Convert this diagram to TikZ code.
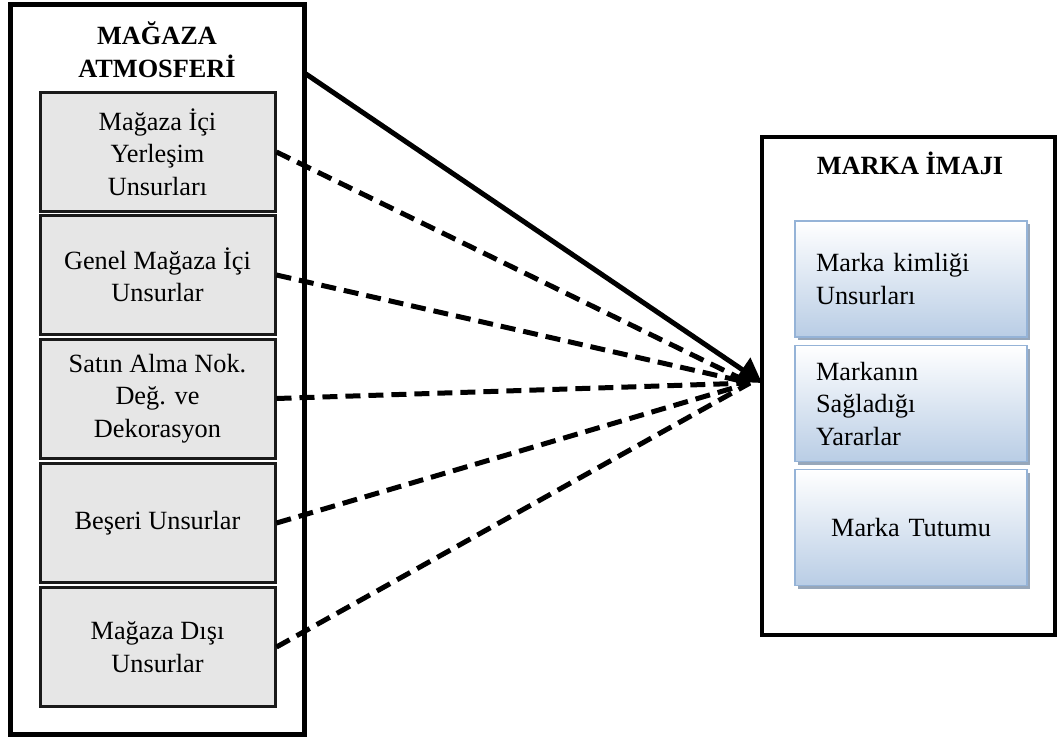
\documentclass[tikz,border=0pt]{standalone}
\usepackage{fontspec}
\setmainfont{Liberation Serif}
\usetikzlibrary{arrows.meta,shadows}
\definecolor{boxgray}{HTML}{E6E6E6}
\definecolor{boxedge}{HTML}{1A1A1A}
\definecolor{paleblue}{HTML}{B9CDE5}
\definecolor{blueedge}{HTML}{95B3D7}
\definecolor{blueshadow}{HTML}{8C9DB3}
\begin{document}
\begin{tikzpicture}[x=1pt,y=-1pt,
  txt/.style={font=\fontsize{26.3}{32.5}\selectfont},
  frame/.style={draw=black, line width=#1, inner sep=0pt},
  factor/.style={txt, draw=boxedge, fill=boxgray, line width=3pt,
    minimum width=235pt, minimum height=119pt, align=center, inner sep=0pt},
  brand/.style={txt, draw=blueedge, line width=1.5pt, top color=white, bottom color=paleblue,
    drop shadow={shadow xshift=3pt, shadow yshift=-3pt, fill=blueshadow, opacity=0.9},
    minimum width=232pt, minimum height=116pt, text width=190pt, inner xsep=21pt, inner ysep=0pt},
  link/.style={line width=5pt, dash pattern=on 15pt off 8pt},
  mainlink/.style={line width=5pt, -{Triangle[length=24pt,width=28pt]}}]

\useasboundingbox (0,0) rectangle (1057,742);

% left block: store atmosphere and its components
\node[frame=5pt, minimum width=294pt, minimum height=730pt] (store) at (157,369) {};
\node[txt, font=\fontsize{26.3}{33}\selectfont\bfseries, align=center] (storetitle) at (157,50) {MAĞAZA\\ATMOSFERİ};

\node[factor] (f1) at (157.5,152) {Mağaza İçi\\Yerleşim\\Unsurları};
\node[factor] (f2) at (157.5,275) {Genel Mağaza İçi\\Unsurlar};
\node[factor] (f3) at (157.5,398.5) {Satın Alma Nok.\\Değ. ve\\Dekorasyon};
\node[factor] (f4) at (157.5,523) {Beşeri Unsurlar};
\node[factor] (f5) at (157.5,647) {Mağaza Dışı\\Unsurlar};

% right block: brand image and its components
\node[frame=4pt, minimum width=293pt, minimum height=498pt] (brandimg) at (908.5,386) {};
\node[txt, font=\fontsize{26.3}{32.5}\selectfont\bfseries] (brandtitle) at (910,163) {MARKA İMAJI};

\node[brand, align=left] (b1) at (911,279) {Marka kimliği\\Unsurları};
\node[brand, align=left] (b2) at (911,403.5) {Markanın\\Sağladığı\\Yararlar};
\node[brand, align=center] (b3) at (911,527.5) {Marka Tutumu};

% connectors
\coordinate (tip) at (762,383);
\coordinate (meet) at (750,383);
\coordinate (storeout) at (306,74);

\foreach \f in {f1,f2,f3,f4,f5}
  \draw[link] (\f.east) -- (meet);
\draw[mainlink] (storeout) -- (tip);

\end{tikzpicture}
\end{document}
